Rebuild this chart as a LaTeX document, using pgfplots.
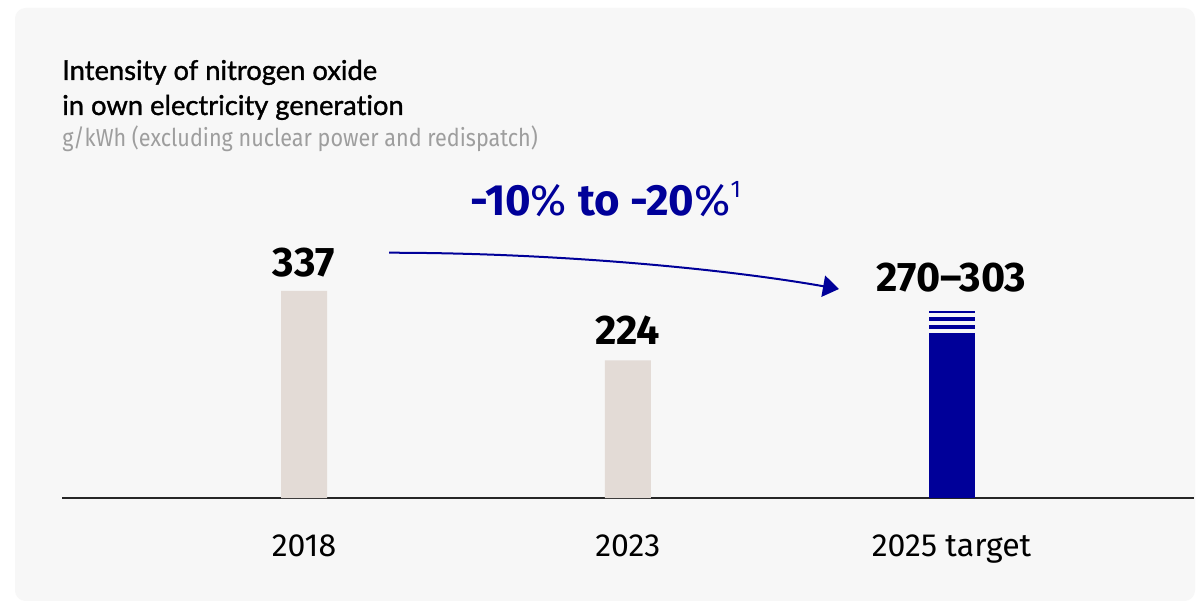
\documentclass[border=0pt]{standalone}
\usepackage{pgfplots}
\pgfplotsset{compat=1.18}
\usepackage{fontspec}
\setmainfont{Lato}[Ligatures={NoCommon}]
\newfontfamily\titlefont{Lato}[Ligatures={NoCommon}, FakeBold=1.2]
\newfontfamily\din{Fira Sans}
\newfontfamily\dinsub[FakeStretch=0.88]{Fira Sans}
\usetikzlibrary{arrows.meta}
\definecolor{panel}{HTML}{F7F7F7}
\definecolor{navy}{HTML}{000099}
\definecolor{beige}{HTML}{E3DBD6}
\definecolor{subgray}{HTML}{9E9E9E}
\begin{document}
\begin{tikzpicture}
\path[use as bounding box, fill=white] (0pt,0pt) rectangle (902.25pt,452.25pt);
\fill[panel, rounded corners=8pt] (11.25pt,1.5pt) rectangle (896.25pt,446.25pt);
\node[anchor=base west, inner sep=0pt, font=\titlefont\fontsize{20.5}{24}\selectfont] at (46.5pt,392.25pt) {Intensity of nitrogen oxide};
\node[anchor=base west, inner sep=0pt, font=\titlefont\fontsize{20.5}{24}\selectfont] at (46.5pt,366pt) {in own electricity generation};
\node[anchor=base west, inner sep=0pt, text=subgray, font=\dinsub\fontsize{18.4}{22}\selectfont] at (46.5pt,342pt) {g/kWh (excluding nuclear power and redispatch)};
\node[anchor=base west, inner sep=0pt, text=navy, font=\din\fontsize{32.8}{36}\selectfont] at (352.5pt,290.25pt) {\textbf{-10}\% \textbf{to -20}\%\raisebox{0.42em}{\fontsize{18}{20}\selectfont 1}};
\begin{axis}[
  at={(46.5pt,78.75pt)}, anchor=south west,
  scale only axis, width=849pt, height=193.7pt,
  xmin=-0.7475, xmax=2.749, ymin=0, ymax=420,
  axis x line=bottom, axis y line=none,
  x axis line style={-, line width=1.5pt, color=black!85},
  xtick={0,1,2}, xticklabels={2018,2023,2025 target},
  xtick style={draw=none},
  xticklabel style={font=\din\fontsize{24}{26}\selectfont, anchor=base, yshift=-39.75pt},
  ytick=\empty,
  clip=false,
  ybar, bar width=34.5pt,
]
\addplot[fill=beige, draw=none, bar shift=0pt] coordinates {(0,337) (1,224)};
\addplot[fill=navy, draw=none, bar shift=0pt] coordinates {(2,303.8)};
\addplot[fill=panel, draw=none, bar shift=0pt] coordinates {(2,300.5)};
\addplot[fill=navy, draw=none, bar shift=0pt] coordinates {(2,294.3)};
\addplot[fill=panel, draw=none, bar shift=0pt] coordinates {(2,287.8)};
\addplot[fill=navy, draw=none, bar shift=0pt] coordinates {(2,281.8)};
\addplot[fill=panel, draw=none, bar shift=0pt] coordinates {(2,274.8)};
\addplot[fill=navy, draw=none, bar shift=0pt] coordinates {(2,269)};
\node[anchor=base, font=\din\bfseries\fontsize{31}{33}\selectfont] at (axis cs:0,361) {337};
\node[anchor=base, font=\din\bfseries\fontsize{31}{33}\selectfont] at (axis cs:1,249) {224};
\node[anchor=base, font=\din\bfseries\fontsize{31}{33}\selectfont] at (axis cs:2,336.6) {270–303};
\end{axis}
\draw[navy, line width=1.5pt, -{Triangle[length=12pt,width=16pt]}] (291.75pt,262.7pt) .. controls (412.5pt,262.7pt) and (540pt,251.25pt) .. (629.25pt,235.5pt);
\end{tikzpicture}
\end{document}
